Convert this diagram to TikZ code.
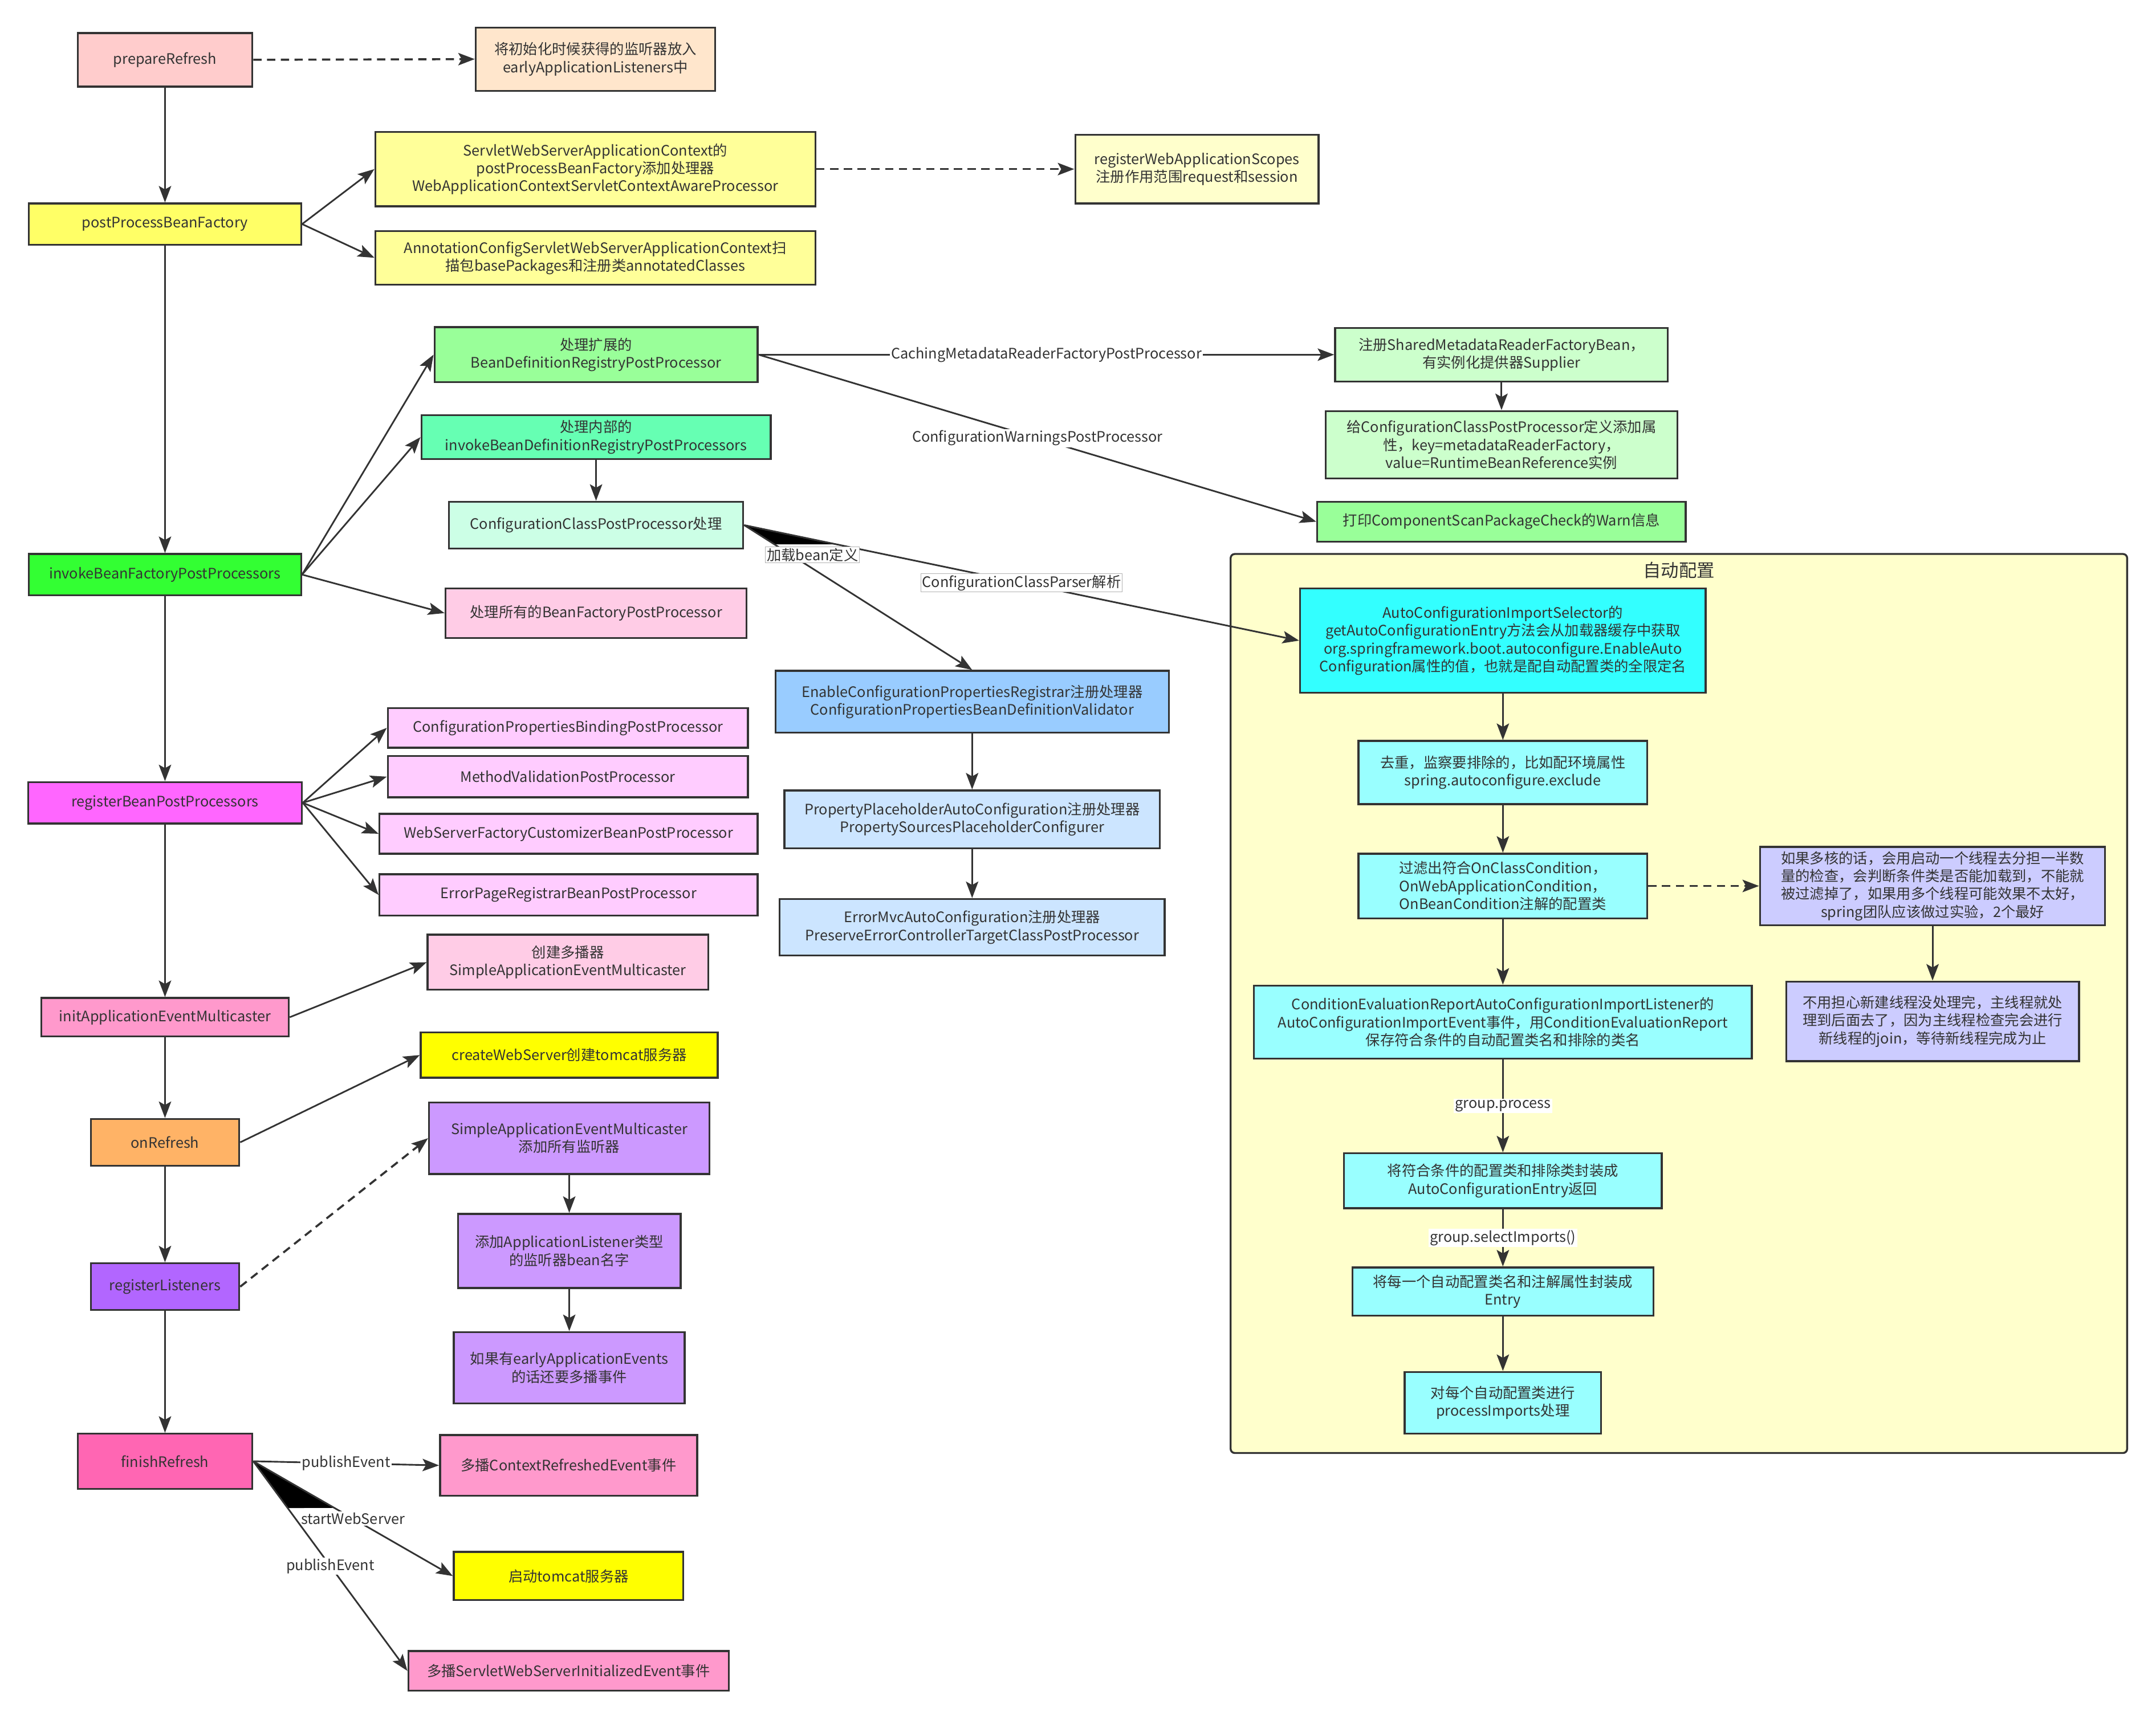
\documentclass[tikz,border=0pt]{standalone}
\usepackage{fontspec}
\setmainfont{Noto Sans CJK SC}
\usepackage{tikz}
\usetikzlibrary{arrows.meta, calc}
\definecolor{ink}{HTML}{333333}
\definecolor{cprep}{HTML}{FFCCCC}
\definecolor{cpeach}{HTML}{FFE6CC}
\definecolor{cyel}{HTML}{FFFF66}
\definecolor{cyellight}{HTML}{FFFF99}
\definecolor{cyelpale}{HTML}{FFFFCC}
\definecolor{cyelfull}{HTML}{FFFF00}
\definecolor{cgreen}{HTML}{33FF33}
\definecolor{cgreenmid}{HTML}{99FF99}
\definecolor{cmint}{HTML}{66FFB3}
\definecolor{cmintpale}{HTML}{CCFFE6}
\definecolor{cgreenpale}{HTML}{CCFFCC}
\definecolor{crose}{HTML}{FFCCE6}
\definecolor{cmagenta}{HTML}{FF66FF}
\definecolor{cmagpale}{HTML}{FFCCFF}
\definecolor{cpink}{HTML}{FF99CC}
\definecolor{cpinkdeep}{HTML}{FF66B3}
\definecolor{corange}{HTML}{FFB366}
\definecolor{cviolet}{HTML}{B266FF}
\definecolor{clilac}{HTML}{CC99FF}
\definecolor{cblue}{HTML}{99CCFF}
\definecolor{cbluepale}{HTML}{CCE5FF}
\definecolor{ccyan}{HTML}{33FFFF}
\definecolor{ccyanpale}{HTML}{99FFFF}
\definecolor{cperi}{HTML}{CCCCFF}
\tikzset{%
    box/.style={%
        draw=ink, line width=1.4pt, text=ink, align=center, inner sep=1pt
    },
    sz/.style 2 args={%
        minimum width=#1, minimum height=#2
    },
    arr/.style={%
        draw=ink, line width=1.2pt, -{Stealth[length=12pt, width=9pt, inset=2.5pt]}
    },
    darr/.style={%
        arr, line width=1.5pt, dash pattern=on 6pt off 4pt
    },
    elab/.style={%
        fill=white, text=ink, inner sep=1pt
    },
    elabb/.style={%
        elab, draw=gray!60, line width=0.4pt
    }
}

\begin{document}
\begin{tikzpicture}[x=1pt, y=-1pt, font=\fontsize{10.5}{13}\selectfont]
    \useasboundingbox (0,0) rectangle (1568,1251);

    % auto-configuration container
    \draw[draw=ink, line width=1.4pt, fill=cyelpale, rounded corners=3pt] (895,403) rectangle (1547,1057);
    \node[text=ink, font=\fontsize{13}{15}\selectfont] (autotitle) at (1221,415) {自动配置};

    % main refresh chain
    \node[box, fill=cprep, sz={127}{39}] (preparerefresh) at (120,43.5) {prepareRefresh};
    \node[box, fill=cyel, sz={198}{30}] (postprocess) at (120,163) {postProcessBeanFactory};
    \node[box, fill=cgreen, sz={198}{30}] (invokebfpp) at (120,418) {invokeBeanFactoryPostProcessors};
    \node[box, fill=cmagenta, sz={199}{30}] (registerbpp) at (120,584) {registerBeanPostProcessors};
    \node[box, fill=cpink, sz={180}{28}] (initmulticaster) at (120,740) {initApplicationEventMulticaster};
    \node[box, fill=corange, sz={108}{34}] (onrefresh) at (120,831) {onRefresh};
    \node[box, fill=cviolet, sz={108}{34}] (reglisteners) at (120,936) {registerListeners};
    \node[box, fill=cpinkdeep, sz={127}{40}] (finishrefresh) at (120,1063) {finishRefresh};

    \node[box, fill=cpeach, sz={174}{46}] (earlylisteners) at (433,43) {将初始化时候获得的监听器放入\\earlyApplicationListeners中};
    \node[box, fill=cyellight, sz={320}{54}] (servletctx) at (433,123) {ServletWebServerApplicationContext的\\postProcessBeanFactory添加处理器\\WebApplicationContextServletContextAwareProcessor};
    \node[box, fill=cyellight, sz={320}{39}] (annoctx) at (433,187.5) {AnnotationConfigServletWebServerApplicationContext扫\\描包basePackages和注册类annotatedClasses};
    \node[box, fill=cyelpale, sz={177}{50}] (webscopes) at (870.5,123) {registerWebApplicationScopes\\注册作用范围request和session};

    \node[box, fill=cgreenmid, sz={235}{40}] (regext) at (433.5,258) {处理扩展的\\BeanDefinitionRegistryPostProcessor};
    \node[box, fill=cmint, sz={254}{32}] (reginner) at (433.5,318) {处理内部的\\invokeBeanDefinitionRegistryPostProcessors};
    \node[box, fill=cmintpale, sz={214}{34}] (ccpp) at (433.5,382) {ConfigurationClassPostProcessor处理};
    \node[box, fill=crose, sz={219}{36}] (allbfpp) at (433.5,446) {处理所有的BeanFactoryPostProcessor};

    \node[box, fill=cgreenpale, sz={242}{39}] (sharedbean) at (1092,258) {注册SharedMetadataReaderFactoryBean，\\有实例化提供器Supplier};
    \node[box, fill=cgreenpale, sz={256}{49}] (addprop) at (1092,323.5) {给ConfigurationClassPostProcessor定义添加属\\性，key=metadataReaderFactory，\\value=RuntimeBeanReference实例};
    \node[box, fill=cgreenmid, sz={268}{29}] (printwarn) at (1092,379.5) {打印ComponentScanPackageCheck的Warn信息};

    \node[box, fill=cblue, sz={286}{45}] (enablereg) at (707,510.5) {EnableConfigurationPropertiesRegistrar注册处理器\\ConfigurationPropertiesBeanDefinitionValidator};
    \node[box, fill=cbluepale, sz={273}{42}] (placeholder) at (707,596) {PropertyPlaceholderAutoConfiguration注册处理器\\PropertySourcesPlaceholderConfigurer};
    \node[box, fill=cbluepale, sz={280}{41}] (errormvc) at (707,674.5) {ErrorMvcAutoConfiguration注册处理器\\PreserveErrorControllerTargetClassPostProcessor};

    \node[box, fill=cmagpale, sz={262}{29}] (bindingpp) at (413,529.5) {ConfigurationPropertiesBindingPostProcessor};
    \node[box, fill=cmagpale, sz={262}{30}] (validationpp) at (413,565) {MethodValidationPostProcessor};
    \node[box, fill=cmagpale, sz={275}{29}] (customizerpp) at (413.5,606.5) {WebServerFactoryCustomizerBeanPostProcessor};
    \node[box, fill=cmagpale, sz={275}{30}] (errorpagepp) at (413.5,651) {ErrorPageRegistrarBeanPostProcessor};
    \node[box, fill=crose, sz={204}{40}] (createmulticaster) at (413,700) {创建多播器\\SimpleApplicationEventMulticaster};

    \node[box, fill=cyelfull, sz={216}{33}] (createwebserver) at (414,767.5) {createWebServer创建tomcat服务器};
    \node[box, fill=clilac, sz={204}{52}] (addlisteners) at (414,828) {SimpleApplicationEventMulticaster\\添加所有监听器};
    \node[box, fill=clilac, sz={162}{54}] (listenerbeans) at (414,910) {添加ApplicationListener类型\\的监听器bean名字};
    \node[box, fill=clilac, sz={168}{52}] (earlyevents) at (414,995) {如果有earlyApplicationEvents\\的话还要多播事件};

    \node[box, fill=cpink, sz={187}{44}] (ctxrefreshed) at (413.5,1066) {多播ContextRefreshedEvent事件};
    \node[box, fill=cyelfull, sz={167}{35}] (starttomcat) at (413.5,1146.5) {启动tomcat服务器};
    \node[box, fill=cpink, sz={233}{29}] (servletinit) at (413.5,1215.5) {多播ServletWebServerInitializedEvent事件};

    % inside the container
    \node[box, fill=ccyan, sz={295}{76}] (autoselector) at (1093,466) {AutoConfigurationImportSelector的\\getAutoConfigurationEntry方法会从加载器缓存中获取\\org.springframework.boot.autoconfigure.EnableAuto\\Configuration属性的值，也就是配自动配置类的全限定名};
    \node[box, fill=ccyanpale, sz={210}{46}] (dedup) at (1093,562) {去重，监察要排除的，比如配环境属性\\spring.autoconfigure.exclude};
    \node[box, fill=ccyanpale, sz={210}{47}] (filter) at (1093,644.5) {过滤出符合OnClassCondition，\\OnWebApplicationCondition，\\OnBeanCondition注解的配置类};
    \node[box, fill=cperi, sz={251}{57}] (multicore) at (1405.5,644.5) {如果多核的话，会用启动一个线程去分担一半数\\量的检查，会判断条件类是否能加载到，不能就\\被过滤掉了，如果用多个线程可能效果不太好，\\spring团队应该做过实验，2个最好};
    \node[box, fill=cperi, sz={213}{58}] (noworry) at (1405.5,743) {不用担心新建线程没处理完，主线程就处\\理到后面去了，因为主线程检查完会进行\\新线程的join，等待新线程完成为止};
    \node[box, fill=ccyanpale, sz={362}{53}] (condeval) at (1093,743.5) {ConditionEvaluationReportAutoConfigurationImportListener的\\AutoConfigurationImportEvent事件，用ConditionEvaluationReport\\保存符合条件的自动配置类名和排除的类名};
    \node[box, fill=ccyanpale, sz={231}{40}] (wrapentry) at (1093,859) {将符合条件的配置类和排除类封装成\\AutoConfigurationEntry返回};
    \node[box, fill=ccyanpale, sz={219}{35}] (eachentry) at (1093,939.5) {将每一个自动配置类名和注解属性封装成\\Entry};
    \node[box, fill=ccyanpale, sz={143}{45}] (processimports) at (1093,1020.5) {对每个自动配置类进行\\processImports处理};

    % filled wedges where two edges leave one point
    \fill[black] (ccpp.east) -- ($(ccpp.east)!0.133!(enablereg.north)$) -- ($(ccpp.east)!0.167!(autoselector.west)$) -- cycle;
    \fill[black] (finishrefresh.east) -- ($(finishrefresh.east)!0.407!(starttomcat.west)$) -- ($(finishrefresh.east)!0.223!(servletinit.west)$) -- cycle;

    \draw[arr] (preparerefresh) -- (postprocess);
    \draw[darr] (preparerefresh.east) -- (earlylisteners.west);
    \draw[arr] (postprocess.east) -- (servletctx.west);
    \draw[arr] (postprocess.east) -- (annoctx.west);
    \draw[darr] (servletctx.east) -- (webscopes.west);
    \draw[arr] (postprocess) -- (invokebfpp);

    \draw[arr] (invokebfpp.east) -- (regext.west);
    \draw[arr] (invokebfpp.east) -- (reginner.west);
    \draw[arr] (invokebfpp.east) -- (allbfpp.west);
    \draw[arr] (regext.east) -- node[elab] {CachingMetadataReaderFactoryPostProcessor} (sharedbean.west);
    \draw[arr] (regext.east) -- node[elab] {ConfigurationWarningsPostProcessor} (printwarn.west);
    \draw[arr] (sharedbean) -- (addprop);
    \draw[arr] (reginner) -- (ccpp);
    \draw[arr] (ccpp.east) -- node[elabb] {ConfigurationClassParser解析} (autoselector.west);
    \draw[arr] (ccpp.east) -- node[elabb, pos=0.3, yshift=10pt] {加载bean定义} (enablereg.north);
    \draw[arr] (enablereg) -- (placeholder);
    \draw[arr] (placeholder) -- (errormvc);

    \draw[arr] (invokebfpp) -- (registerbpp);
    \draw[arr] (registerbpp.east) -- (bindingpp.west);
    \draw[arr] (registerbpp.east) -- (validationpp.west);
    \draw[arr] (registerbpp.east) -- (customizerpp.west);
    \draw[arr] (registerbpp.east) -- (errorpagepp.west);
    \draw[arr] (registerbpp) -- (initmulticaster);
    \draw[arr] (initmulticaster.east) -- (createmulticaster.west);
    \draw[arr] (initmulticaster) -- (onrefresh);
    \draw[arr] (onrefresh.east) -- (createwebserver.west);
    \draw[arr] (onrefresh) -- (reglisteners);
    \draw[darr] (reglisteners.east) -- (addlisteners.west);
    \draw[arr] (addlisteners) -- (listenerbeans);
    \draw[arr] (listenerbeans) -- (earlyevents);
    \draw[arr] (reglisteners) -- (finishrefresh);

    \draw[arr] (finishrefresh.east) -- node[elab] {publishEvent} (ctxrefreshed.west);
    \draw[arr] (finishrefresh.east) -- node[elab] {startWebServer} (starttomcat.west);
    \draw[arr] (finishrefresh.east) -- node[elab] {publishEvent} (servletinit.west);

    \draw[arr] (autoselector) -- (dedup);
    \draw[arr] (dedup) -- (filter);
    \draw[arr] (filter) -- (condeval);
    \draw[darr] (filter.east) -- (multicore.west);
    \draw[arr] (multicore) -- (noworry);
    \draw[arr] (condeval) -- node[elab] {group.process} (wrapentry);
    \draw[arr] (wrapentry) -- node[elab] {group.selectImports()} (eachentry);
    \draw[arr] (eachentry) -- (processimports);
\end{tikzpicture}
\end{document}
